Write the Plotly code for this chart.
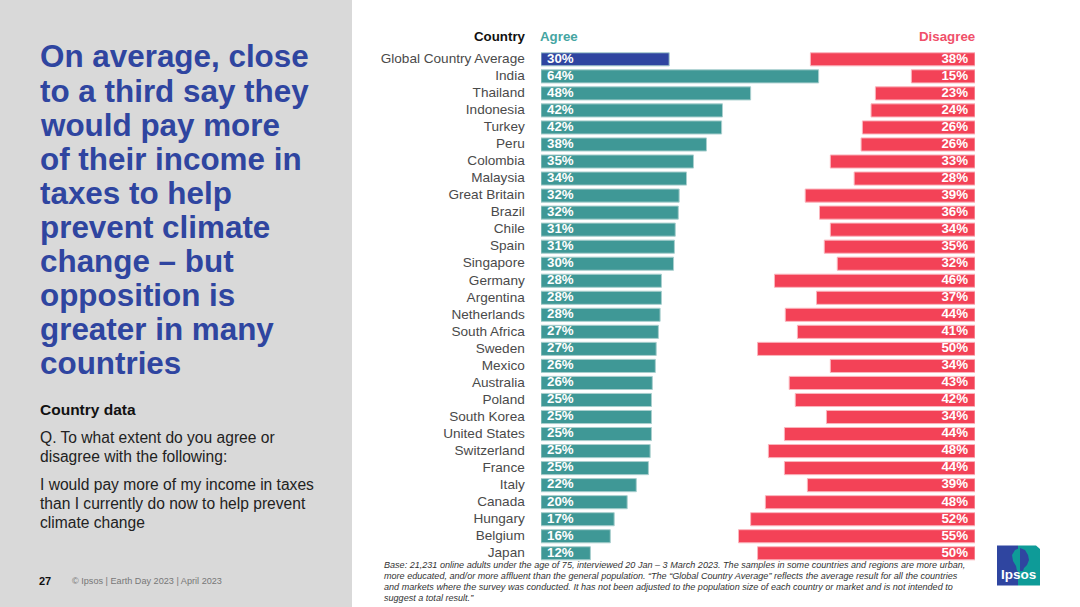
import plotly.graph_objects as go

W, H = 1080, 607
FONT = "Liberation Sans"
BLUE = "#2f45a0"
TEAL = "#3f9896"
RED = "#f34257"

countries = ["Global Country Average", "India", "Thailand", "Indonesia", "Turkey", "Peru", "Colombia",
             "Malaysia", "Great Britain", "Brazil", "Chile", "Spain", "Singapore", "Germany", "Argentina",
             "Netherlands", "South Africa", "Sweden", "Mexico", "Australia", "Poland", "South Korea",
             "United States", "Switzerland", "France", "Italy", "Canada", "Hungary", "Belgium", "Japan"]
agree_labels = [30, 64, 48, 42, 42, 38, 35, 34, 32, 32, 31, 31, 30, 28, 28, 28, 27, 27, 26, 26, 25, 25, 25, 25, 25, 22, 20, 17, 16, 12]
disagree_labels = [38, 15, 23, 24, 26, 26, 33, 28, 39, 36, 34, 35, 32, 46, 37, 44, 41, 50, 34, 43, 42, 34, 44, 48, 44, 39, 48, 52, 55, 50]
# bar lengths (the printed labels are rounded)
agree_values = [29.6, 64.1, 48.4, 41.9, 41.7, 38.2, 35.2, 33.6, 31.9, 31.7, 31.0, 30.8, 30.6, 27.8, 27.8,
                27.5, 27.1, 26.6, 26.4, 25.7, 25.5, 25.5, 25.5, 25.2, 24.8, 22.0, 19.9, 16.9, 16.0, 11.4]
disagree_values = [38.0, 14.7, 23.0, 24.0, 26.0, 26.3, 33.4, 27.9, 39.2, 35.9, 33.4, 34.8, 31.8, 46.3, 36.6,
                   43.8, 41.0, 50.2, 33.4, 42.9, 41.5, 34.3, 44.0, 47.7, 44.0, 38.7, 48.4, 51.8, 54.6, 50.2]

title_lines = ["On average, close", "to a third say they", "would pay more", "of their income in", "taxes to help",
               "prevent climate", "change \u2013 but", "opposition is", "greater in many", "countries"]
note_lines = [
    "Base: 21,231 online adults under the age of 75, interviewed 20 Jan \u2013 3 March 2023. The samples in some countries and regions are more urban,",
    "more educated, and/or more affluent than the general population. \u201cThe \u201cGlobal Country Average\u201d reflects the average result for all the countries",
    "and markets where the survey was conducted. It has not been adjusted to the population size of each country or market and is not intended to",
    "suggest a total result.\u201d",
]

def px(x): return x / W
def py(y): return 1 - y / H

fig = go.Figure()
agree_colors = [BLUE] + [TEAL] * (len(countries) - 1)
fig.add_bar(y=countries, x=agree_values, orientation="h", xaxis="x", yaxis="y",
            marker=dict(color=agree_colors, line=dict(color="#a9cfce", width=1)), width=0.77, hoverinfo="skip")
fig.add_bar(y=countries, x=disagree_values, orientation="h", xaxis="x2", yaxis="y",
            marker=dict(color=RED, line=dict(color="#fbb5bd", width=1)), width=0.77, hoverinfo="skip")
label_font = dict(family=FONT, size=13.3, color="white", weight="bold")
fig.add_scatter(y=countries, x=[1.4] * len(countries), mode="text", xaxis="x", yaxis="y2",
                text=[f"{v}%" for v in agree_labels], textposition="middle right", textfont=label_font, hoverinfo="skip")
fig.add_scatter(y=countries, x=[1.6] * len(countries), mode="text", xaxis="x2", yaxis="y2",
                text=[f"{v}%" for v in disagree_labels], textposition="middle left", textfont=label_font, hoverinfo="skip")

def txt(x, y, s, size, color="#222222", bold=False, italic=False, anchor="left"):
    fig.add_annotation(xref="paper", yref="paper", x=px(x), y=py(y), text=s, showarrow=False, xanchor=anchor, yanchor="middle",
                       align=anchor, borderpad=0, borderwidth=0,
                       font=dict(family=FONT, size=size, color=color, weight="bold" if bold else "normal",
                                 style="italic" if italic else "normal"))

for i, line in enumerate(title_lines):
    txt(39.5, 57 + i * 34.03, line, 31.4, BLUE, bold=True)
txt(39.5, 409.5, "Country data", 15.5, "#111111", bold=True)
for y, line in [(437, "Q. To what extent do you agree or"), (456, "disagree with the following:"),
                (484, "I would pay more of my income in taxes"), (503, "than I currently do now to help prevent"),
                (522.5, "climate change")]:
    txt(39.5, y, line, 15.6)
txt(39, 581, "27", 11, "#111111", bold=True)
txt(72, 581, "\u00a9 Ipsos | Earth Day 2023 | April 2023", 9.13, "#777777")
txt(525.5, 37, "Country", 13.3, "#111111", bold=True, anchor="right")
txt(540, 37, "Agree", 13.3, "#45a5a2", bold=True)
txt(975, 37, "Disagree", 13.3, "#f0506a", bold=True, anchor="right")
for i, line in enumerate(note_lines):
    txt(384, 565 + i * 11.1, line, 9.07, "#333333", italic=True)
txt(1018.5, 574.5, "Ipsos", 13.5, "white", bold=True, anchor="center")

def poly(points):
    return "M " + " L ".join(f"{px(x)} {py(y)}" for x, y in points) + " Z"

LOGO_TEAL = "#0e9b98"
logo_right = [(1018, 545.5), (1036, 545.5), (1040, 549), (1040, 585.5), (1018, 585.5)]
logo_left = [(997, 545.5), (1018, 545.5), (1018, 585.5), (997, 585.5)]
head_left = [(1020, 548), (1015, 550), (1012, 555), (1013, 561), (1016, 566), (1017, 571), (1020, 571)]
head_right = [(1020, 548), (1025, 550), (1028, 555), (1029, 560), (1027, 565), (1024, 568), (1023, 571), (1020, 571)]
shapes = [
    dict(type="rect", xref="paper", yref="paper", x0=0, x1=px(352), y0=0, y1=1, fillcolor="#d9d9d9", line_width=0, layer="below"),
]
for pts, col in [(logo_right, LOGO_TEAL), (logo_left, BLUE), (head_left, LOGO_TEAL), (head_right, BLUE)]:
    shapes.append(dict(type="path", xref="paper", yref="paper", layer="below", fillcolor=col, line_width=0, path=poly(pts)))

fig.update_layout(
    width=W, height=H, autosize=False, margin=dict(l=0, r=0, t=0, b=0),
    paper_bgcolor="white", plot_bgcolor="rgba(0,0,0,0)", showlegend=False, barmode="overlay",
    font=dict(family=FONT), shapes=shapes,
    xaxis=dict(domain=[px(541), px(975)], range=[0, 100.2], visible=False, fixedrange=True),
    xaxis2=dict(domain=[px(541), px(975)], range=[100.2, 0], visible=False, overlaying="x", anchor="y", fixedrange=True),
    yaxis=dict(domain=[py(561.8), py(50.8)], autorange=False, range=[len(countries) - 0.5, -0.5], type="category",
               categoryorder="array", categoryarray=countries, showgrid=False, zeroline=False, showline=False,
               ticks="outside", ticklen=12.5, tickcolor="rgba(0,0,0,0)", ticklabelshift=1,
               tickfont=dict(family=FONT, size=13.6, color="#4a4a4a")),
    # same rows as the main axis, nudged so the bar labels sit centred on the bars
    yaxis2=dict(domain=[py(564.4), py(53.4)], autorange=False, range=[len(countries) - 0.5, -0.5], type="category",
                categoryorder="array", categoryarray=countries, visible=False, overlaying="y", anchor="x"),
)
fig.write_html("out.html", post_script="document.body.style.margin='0';document.body.style.overflow='hidden';",
               config=dict(displayModeBar=False))
